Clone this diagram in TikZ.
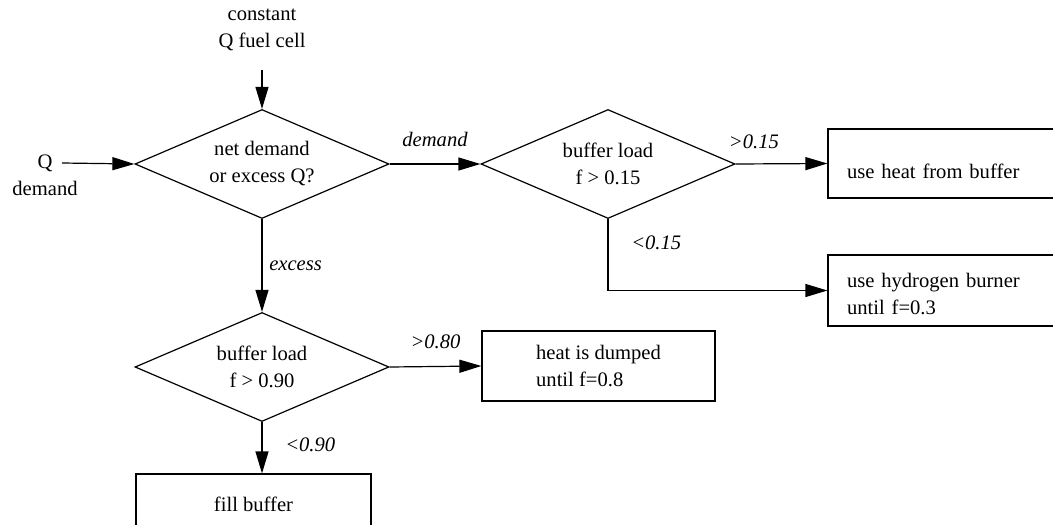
\documentclass[tikz,border=0pt]{standalone}
\usepackage{fontspec}
\setmainfont{Liberation Serif}
\usetikzlibrary{shapes.geometric,arrows.meta}

\begin{document}
\begin{tikzpicture}[x=0.5pt,y=-0.5pt,>={Triangle[length=11pt,width=6.5pt]},
    line width=0.6pt,
    every node/.style={font=\fontsize{10.3}{13.5}\selectfont},
    decision/.style={diamond,draw,aspect=2.33,inner sep=0pt,minimum width=127pt,minimum height=54.5pt,align=center},
    action/.style={rectangle,draw,inner sep=0pt,align=center},
    branch/.style={font=\fontsize{10.3}{13.5}\selectfont\itshape}]

\useasboundingbox (0,0) rectangle (1053,524);

\node[align=center] (fuelcell) at (262,30) {constant\\Q fuel cell};
\node[align=center] (qdemand) at (45,175) {Q\\demand};
\coordinate (fcin) at (262,70);
\coordinate (qin) at (62,163);

\node[decision] (D1) at (262,164) {net demand\\or excess Q?};
\node[decision] (D2) at (608,164) {buffer load\\f > 0.15};
\node[decision] (D3) at (262,367) {buffer load\\f > 0.90};

\node[action, minimum width=120pt, minimum height=34.5pt, text width=101pt, text height=15pt, inner xsep=9.5pt, align=left] (B1) at (948,163.5) {use heat from buffer};
\node[action, minimum width=120pt, minimum height=35.5pt, text width=101pt, text height=11pt, inner xsep=9.5pt, align=left] (B2) at (948,290.5) {use hydrogen burner\\until f=0.3};
\node[action, minimum width=116.5pt, minimum height=35pt, align=left] (B3) at (598.5,366) {heat is dumped\\until f=0.8};
\node[action, minimum width=117.5pt, minimum height=30pt] (B4) at (253.5,504) {fill buffer};

\draw[->] (fcin) -- (D1.north);
\draw[->] (qin) -- (D1.west);
\draw[->] (D1.east) -- node[branch,above=5pt] {demand} (D2.west);
\draw[->] (D2.east) -- node[branch,above=4pt,pos=0.2] {>0.15} (B1.west);
\draw[->] (D2.south) |- node[branch,right=8pt,pos=0.165] {<0.15} (B2.west);
\draw[->] (D1.south) -- node[branch,right] {excess} (D3.north);
\draw[->] (D3.east) -- node[branch,above=5pt] {>0.80} (B3.west);
\draw[->] (D3.south) -- node[branch,right=8pt,pos=0.45] {<0.90} (D3.south |- B4.north);

\end{tikzpicture}
\end{document}
